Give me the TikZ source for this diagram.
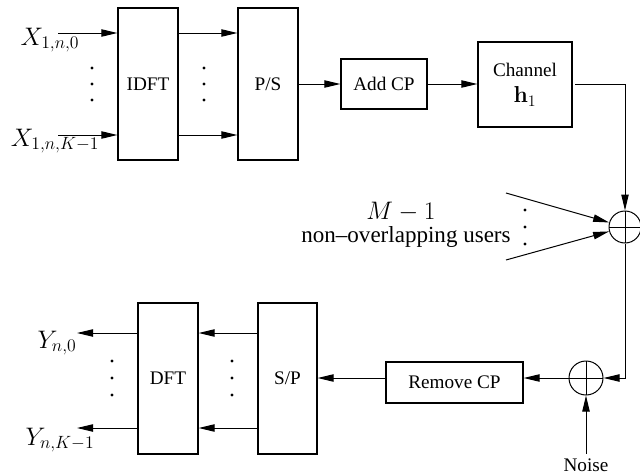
\RequirePackage{fix-cm}
\documentclass[tikz,border=0pt]{standalone}
\usepackage[no-math]{fontspec}
\setmainfont{Liberation Serif}
\usetikzlibrary{arrows.meta}
\begin{document}
\begin{tikzpicture}[x=0.75pt,y=-0.75pt,
 every node/.style={font=\fontsize{14.4}{17}\selectfont},
 mlab/.style={font=\fontsize{19}{22}\selectfont},
 blk/.style={draw, line width=0.9pt, rectangle, inner sep=0pt},
 arr/.style={line width=0.75pt,-{Triangle[length=12pt,width=5.5pt]}},
 adder/.style={draw, line width=0.75pt, circle, minimum size=24pt, inner sep=0pt,
   path picture={\draw[line width=0.75pt] (path picture bounding box.north) -- (path picture bounding box.south)
     (path picture bounding box.west) -- (path picture bounding box.east);}},
 dotm/.style={circle, fill, inner sep=0pt, minimum size=2.6pt}
]
\useasboundingbox (0,0) rectangle (640,475);
% blocks
\node[blk, minimum width=45pt, minimum height=114pt] (idft) at (148,84) {IDFT};
\node[blk, minimum width=45pt, minimum height=114pt] (ps) at (268,84) {P/S};
\node[blk, minimum width=64.5pt, minimum height=37.5pt] (addcp) at (384,84) {Add CP};
\node[blk, minimum width=70.5pt, minimum height=63.75pt, align=center] (chan) at (525,84.5) {Channel\\[3pt]{\fontsize{17.28}{20}\selectfont$\mathbf{h}_1$}};
\node[adder] (add1) at (625,227) {};
\node[adder, minimum size=25.5pt] (add2) at (586,378) {};
\node[blk, minimum width=102.75pt, minimum height=30.75pt] (rcp) at (454.5,382.5) {Remove CP};
\node[blk, minimum width=44.25pt, minimum height=113.25pt] (sp) at (287.5,378.5) {S/P};
\node[blk, minimum width=45pt, minimum height=113.25pt] (dft) at (168,378.5) {DFT};
% labels
\node[mlab] (x0) at (50,40) {$X_{1,n,0}$};
\node[mlab] (xk) at (55,141) {$X_{1,n,K-1}$};
\node[mlab] (y0) at (57,343) {$Y_{n,0}$};
\node[mlab] (yk) at (60,440) {$Y_{n,K-1}$};
\node (noise) at (586,465) {Noise};
\node[mlab] (mm) at (401,212) {$M-1$};
\node[font=\fontsize{17.28}{20}\selectfont] (users) at (406,237) {non--overlapping users};
% coordinates
\coordinate (i0) at (58,33);
\coordinate (ik) at (58,135);
\coordinate (o0) at (77,333);
\coordinate (ok) at (77,428);
\coordinate (u1) at (506,193);
\coordinate (u2) at (506,260);
% connectors
\draw[arr] (i0) -- (i0 -| idft.west);
\draw[arr] (ik) -- (ik -| idft.west);
\draw[arr] (idft.east |- i0) -- (ps.west |- i0);
\draw[arr] (idft.east |- ik) -- (ps.west |- ik);
\draw[arr] (ps.east) -- (addcp.west);
\draw[arr] (addcp.east) -- (chan.west |- addcp.east);
\draw[arr] ([xshift=2pt]chan.east |- addcp.east) -- (add1.north |- addcp.east) -- (add1.north);
\draw[arr] (u1) -- (add1);
\draw[arr] (u2) -- (add1);
\draw[arr] (add1.south) -- (add1.south |- add2) -- (add2.east);
\draw[arr] (noise.north) -- (add2.south);
\draw[arr] (add2.west) -- (rcp.east |- add2.west);
\draw[arr] (rcp.west |- add2) -- (sp.east |- add2);
\draw[arr] (sp.west |- o0) -- (dft.east |- o0);
\draw[arr] (sp.west |- ok) -- (dft.east |- ok);
\draw[arr] (dft.west |- o0) -- (o0);
\draw[arr] (dft.west |- ok) -- (ok);
% dots
\foreach \x in {92,204} { \foreach \y in {68,84,100} { \node[dotm] at (\x,\y) {}; } }
\foreach \x in {112,232} { \foreach \y in {361,378,395} { \node[dotm] at (\x,\y) {}; } }
\foreach \y in {210,227,244} { \node[dotm] at (525,\y) {}; }
\end{tikzpicture}
\end{document}
